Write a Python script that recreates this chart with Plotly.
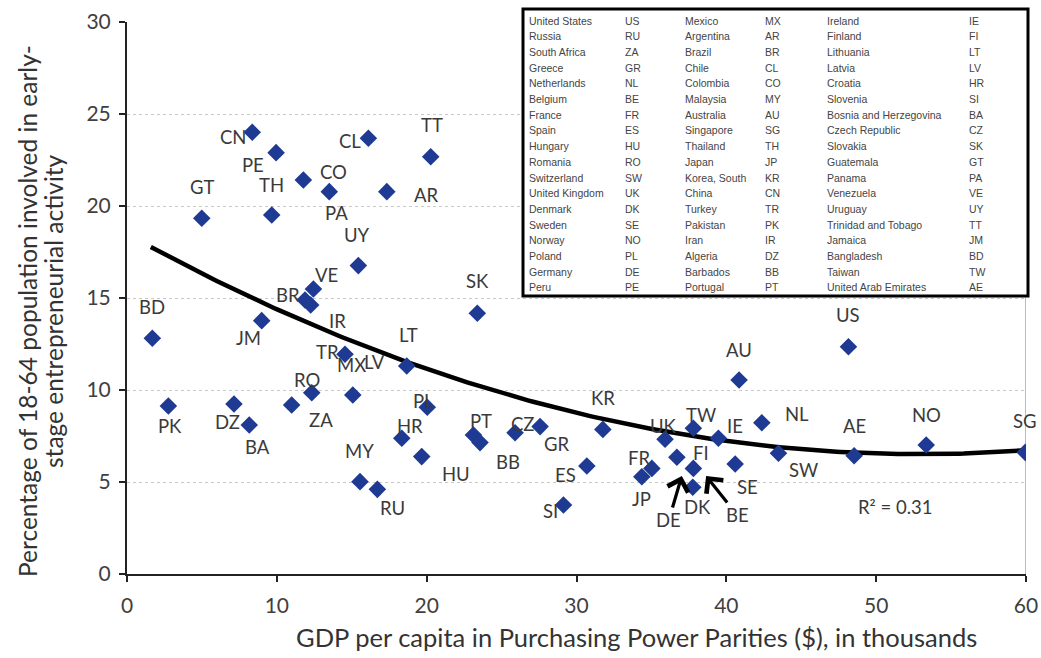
import plotly.graph_objects as go
import numpy as np

# ---------------- data ----------------
codes = ["BD", "PK", "GT", "DZ", "BA", "CN", "JM", "TH", "PE", "ZA",
         "CO", "BR", "IR", "RO", "VE", "PA", "TR", "MX", "UY", "MY",
         "CL", "RU", "AR", "HR", "LT", "HU", "PL", "TT", "PT", "BB",
         "SK", "CZ", "GR", "SI", "ES", "KR", "JP", "FR", "UK", "DE",
         "FI", "DK", "TW", "IE", "SE", "AU", "NL", "SW", "US", "AE",
         "NO", "SG"]
gdp = [1.69, 2.76, 4.99, 7.14, 8.16, 8.36, 8.99, 9.66, 9.95, 10.99,
       11.77, 11.88, 12.26, 12.33, 12.44, 13.50, 14.55, 15.07, 15.44, 15.55,
       16.11, 16.71, 17.34, 18.34, 18.67, 19.67, 20.04, 20.27, 23.12, 23.56,
       23.38, 25.90, 27.57, 29.13, 30.69, 31.76, 34.36, 35.03, 35.91, 36.70,
       37.80, 37.76, 37.80, 39.47, 40.59, 40.85, 42.37, 43.48, 48.15, 48.53,
       53.34, 59.95]
tea = [12.81, 9.13, 19.33, 9.24, 8.10, 24.01, 13.77, 19.51, 22.90, 9.18,
       21.41, 14.89, 14.62, 9.85, 15.49, 20.78, 11.94, 9.73, 16.76, 5.02,
       23.68, 4.60, 20.78, 7.38, 11.30, 6.38, 9.06, 22.68, 7.55, 7.14,
       14.17, 7.68, 8.01, 3.75, 5.87, 7.86, 5.29, 5.74, 7.32, 6.34,
       5.74, 4.71, 7.92, 7.38, 5.98, 10.54, 8.22, 6.56, 12.35, 6.43,
       7.01, 6.61]

r_squared_text = "R² = 0.31"

# country key table (three column pairs)
key_names_1 = ["United States", "Russia", "South Africa", "Greece", "Netherlands", "Belgium",
               "France", "Spain", "Hungary", "Romania", "Switzerland", "United Kingdom",
               "Denmark", "Sweden", "Norway", "Poland", "Germany", "Peru"]
key_codes_1 = ["US", "RU", "ZA", "GR", "NL", "BE", "FR", "ES", "HU", "RO", "SW", "UK",
               "DK", "SE", "NO", "PL", "DE", "PE"]
key_names_2 = ["Mexico", "Argentina", "Brazil", "Chile", "Colombia", "Malaysia",
               "Australia", "Singapore", "Thailand", "Japan", "Korea, South", "China",
               "Turkey", "Pakistan", "Iran", "Algeria", "Barbados", "Portugal"]
key_codes_2 = ["MX", "AR", "BR", "CL", "CO", "MY", "AU", "SG", "TH", "JP", "KR", "CN",
               "TR", "PK", "IR", "DZ", "BB", "PT"]
key_names_3 = ["Ireland", "Finland", "Lithuania", "Latvia", "Croatia", "Slovenia",
               "Bosnia and Herzegovina", "Czech Republic", "Slovakia", "Guatemala", "Panama",
               "Venezuela", "Uruguay", "Trinidad and Tobago", "Jamaica", "Bangladesh",
               "Taiwan", "United Arab Emirates"]
key_codes_3 = ["IE", "FI", "LT", "LV", "HR", "SI", "BA", "CZ", "SK", "GT", "PA", "VE",
               "UY", "TT", "JM", "BD", "TW", "AE"]

# ---------------- styling ----------------
FONT = "Lato"
LABEL_COLOR = "#3a3a3a"
MARKER_COLOR = "#1f3a93"

# label offsets in pixels (xshift, yshift) relative to each point
label_offsets = {
    "BD": (0, 31), "PK": (2, -20), "GT": (0, 31), "DZ": (-6, -18), "BA": (8, -22),
    "CN": (-19, -5), "JM": (-13, -17), "TH": (0, 30), "PE": (-23, -12), "ZA": (29, -15),
    "CO": (30, 8), "BR": (-17, 5), "IR": (27, -16), "RO": (-5, 13), "VE": (13, 14),
    "PA": (7, -21), "TR": (-18, 2), "MX": (-1, 30), "UY": (-1, 31), "MY": (0, 31),
    "CL": (-18, -3), "RU": (15, -19), "AR": (40, -3), "HR": (8, 12), "LT": (2, 31),
    "HU": (34, -17), "PL": (-4, 6), "TT": (1, 32), "PT": (8, 14), "BB": (28, -19),
    "SK": (0, 32), "CZ": (8, 9), "GR": (17, -17), "SI": (-13, -6), "ES": (-21, -9),
    "KR": (0, 31), "JP": (0, -22), "FR": (-13, 10), "UK": (-2, 13), "FI": (8, 15),
    "DK": (5, -20), "TW": (8, 13), "IE": (17, 12), "SE": (12, -23), "AU": (0, 30),
    "NL": (35, 9), "SW": (25, -17), "US": (0, 32), "AE": (0, 30), "NO": (0, 30),
    "SG": (0, 31),
}
extra_labels = [("LV", "MX", 22, 33)]  # label drawn near another point

W, H = 1041, 658

# ---------------- figure ----------------
fig = go.Figure()

# trend line: 2nd order polynomial fitted to the data
coef = np.polyfit(gdp, tea, 2)
xs = np.linspace(min(gdp) - 0.1, max(gdp), 200)
fig.add_trace(go.Scatter(x=xs, y=np.polyval(coef, xs), mode="lines",
                         line=dict(color="black", width=4.5), hoverinfo="skip",
                         showlegend=False))

fig.add_trace(go.Scatter(x=gdp, y=tea, mode="markers", text=codes,
                         marker=dict(symbol="diamond", size=13.5, color=MARKER_COLOR,
                                     line=dict(width=0)),
                         showlegend=False))

annotations = []
lab_font = dict(family=FONT, size=18.5, color=LABEL_COLOR)
for c, x, y in zip(codes, gdp, tea):
    if c in label_offsets:
        dx, dy = label_offsets[c]
        annotations.append(dict(x=x, y=y, xref="x", yref="y", text=c, showarrow=False,
                                xshift=dx, yshift=dy, font=lab_font))
for lab, ref, dx, dy in extra_labels:
    i = codes.index(ref)
    annotations.append(dict(x=gdp[i], y=tea[i], xref="x", yref="y", text=lab,
                            showarrow=False, xshift=dx, yshift=dy, font=lab_font))

# arrow labels
annotations.append(dict(x=37.03, y=5.33, xref="x", yref="y", text="DE", showarrow=True,
                        ax=-13, ay=44, arrowhead=4, arrowwidth=3.2, arrowsize=1.3,
                        arrowcolor="black", standoff=0, font=lab_font))
annotations.append(dict(x=38.65, y=5.33, xref="x", yref="y", text="BE", showarrow=True,
                        ax=31, ay=39, arrowhead=4, arrowwidth=3.2, arrowsize=1.3,
                        arrowcolor="black", standoff=0, font=lab_font))

annotations.append(dict(x=51.27, y=3.62, xref="x", yref="y", text=r_squared_text,
                        showarrow=False, font=dict(family=FONT, size=18.5, color=LABEL_COLOR)))

# key table / titles positioned in screen pixels -> paper
PW, PH, L, B = 899.0, 552.0, 127.0, 574.0
def px2paper(px, py):
    return (px - L) / PW, (B - py) / PH

# axis titles
tx, ty = px2paper(636, 637)
annotations.append(dict(x=tx, y=ty, xref="paper", yref="paper", xanchor="center",
                        yanchor="middle",
                        text="GDP per capita in Purchasing Power Parities ($), in thousands",
                        showarrow=False, font=dict(family=FONT, size=25.5, color="#333333")))
ytitle_lines = ["Percentage of 18-64 population involved in early-",
                "stage entrepreneurial activity"]
for line, px in zip(ytitle_lines, [27, 53]):
    yx, yy = px2paper(px, 311)
    annotations.append(dict(x=yx, y=yy, xref="paper", yref="paper", xanchor="center",
                            yanchor="middle", textangle=-90, text=line, showarrow=False,
                            font=dict(family=FONT, size=24.5, color="#333333")))

col_x = [527, 623, 683, 763, 825, 967]
columns = [key_names_1, key_codes_1, key_names_2, key_codes_2, key_names_3, key_codes_3]
tab_font = dict(family="Liberation Sans", size=10.5, color="#444444")
for cx, col in zip(col_x, columns):
    for r, t in enumerate(col):
        xp, yp = px2paper(cx, 20.7 + r * 15.68)
        annotations.append(dict(x=xp, y=yp, xref="paper", yref="paper", text=t,
                                showarrow=False, xanchor="left", yanchor="middle",
                                font=tab_font))

x0, y0 = px2paper(523, 296)
x1, y1 = px2paper(1028, 9)
shapes = [
    dict(type="line", xref="x", yref="y", x0=60, x1=60, y0=0, y1=30,
         line=dict(color="#a6a6a6", width=1.5), layer="below"),
    dict(type="rect", xref="paper", yref="paper", x0=x0, y0=y0, x1=x1, y1=y1,
         fillcolor="white", line=dict(color="black", width=3), layer="above"),
]

fig.update_layout(
    width=W, height=H,
    margin=dict(l=127, r=W - 1026, t=22, b=H - 574, autoexpand=False),
    paper_bgcolor="white", plot_bgcolor="white",
    font=dict(family=FONT, color="#404040"),
    annotations=annotations, shapes=shapes,
    xaxis=dict(range=[0, 60], tickvals=[0, 10, 20, 30, 40, 50, 60], showgrid=False,
               zeroline=False, showline=True, linecolor="#222222", linewidth=2,
               ticks="outside", ticklen=6, tickcolor="#222222", tickwidth=1.5,
               tickfont=dict(family=FONT, size=21, color="#404040"),
               ticklabelstandoff=6, automargin=False),
    yaxis=dict(range=[0, 30], tickvals=[0, 5, 10, 15, 20, 25, 30], showgrid=True,
               gridcolor="#c8c8c8", griddash="dot", gridwidth=1.2,
               zeroline=False, showline=True, linecolor="#222222", linewidth=2,
               ticks="outside", ticklen=6, tickcolor="#222222", tickwidth=1.5,
               tickfont=dict(family=FONT, size=21, color="#404040"),
               ticklabelstandoff=4, automargin=False),
)

fig.write_html(
    "out.html",
    config={"displayModeBar": False},
    post_script=("document.body.style.margin='0';"
                 "document.body.style.overflow='hidden';"
                 "document.documentElement.style.overflow='hidden';"),
)
